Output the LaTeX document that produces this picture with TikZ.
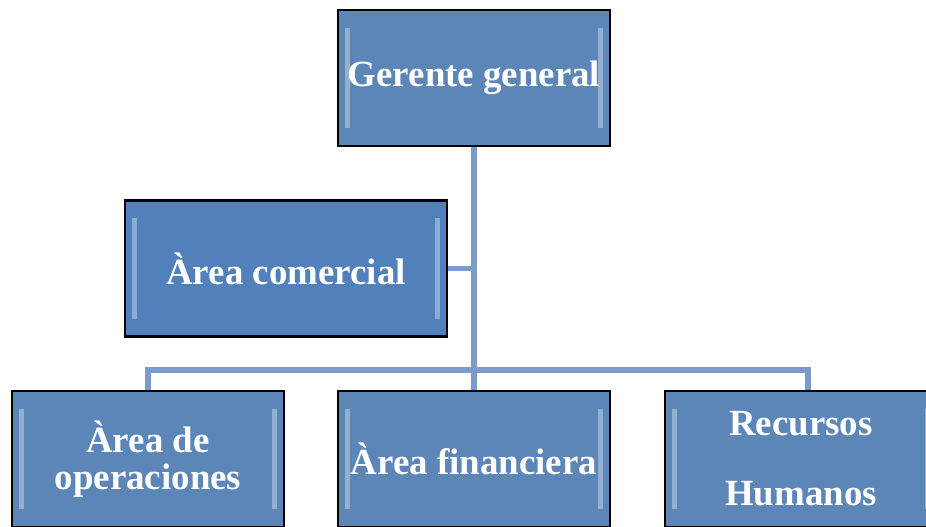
\documentclass[tikz,border=0pt]{standalone}
\usepackage{fontspec}
\setmainfont{Liberation Serif}
\usetikzlibrary{positioning,backgrounds}
\definecolor{boxblue}{RGB}{92,134,184}
\definecolor{boxblueb}{RGB}{82,128,186}
\definecolor{linkblue}{RGB}{124,154,204}
\tikzset{
  orgbox/.style={ draw=black, line width=1.2pt, fill=boxblue, text=white,
    font=\bfseries\fontsize{21}{25}\selectfont, align=center,
    minimum width=5.44cm, minimum height=2.72cm, inner sep=2pt,
    path picture={
      % light bevel strips at left and right
      \fill[white,opacity=.35] ([xshift=4pt,yshift=10pt]path picture bounding box.south west)
        rectangle ([xshift=7pt,yshift=-10pt]path picture bounding box.north west);
      \fill[white,opacity=.35] ([xshift=-7pt,yshift=10pt]path picture bounding box.south east)
        rectangle ([xshift=-4pt,yshift=-10pt]path picture bounding box.north east);
    } }
}
\tikzset{
  link/.style={ draw=linkblue, line width=3.4pt }
}
\begin{document}
\begin{tikzpicture}[x=0.02cm,y=-0.02cm]
  \useasboundingbox (0,0) rectangle (926,527);

  \node[orgbox] (gerente) at (474,78) {Gerente general};
  \node[orgbox, fill=boxblueb, minimum width=6.44cm] (comercial) at (286,268.5) {Àrea comercial};
  \node[orgbox] (operaciones) at (148,459) {Àrea de\\[-4pt]operaciones};
  \node[orgbox] (financiera) at (474,459) {Àrea financiera};
  \node[orgbox] (recursos) at (801,459) {Recursos\\[15pt]Humanos};

  \coordinate (bus) at (474,370);
  \coordinate (rhdrop) at (808,391);

  \begin{scope}[on background layer]
    \draw[link] (gerente.south) -- (financiera.north);
    \draw[link] (comercial.east) -- (comercial.east -| gerente.south);
    \draw[link] (operaciones.north) |- (bus) -| (rhdrop);
  \end{scope}
\end{tikzpicture}
\end{document}
